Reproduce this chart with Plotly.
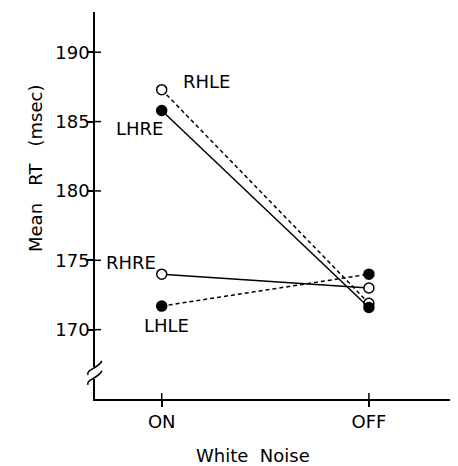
import plotly.graph_objects as go

conditions = ["ON", "OFF"]
x_pos = [0, 1]
rhle = [187.3, 171.9]
lhre = [185.8, 171.6]
rhre = [174.0, 173.0]
lhle = [171.7, 174.0]
y_ticks = [170, 175, 180, 185, 190]

OFF = 8  # page body margin
W, H = 458 - OFF, 466 - OFF
ML, MR, MT = 95 - OFF, 0, 12 - OFF
PW = 458 - 95
PH = 399 - 12
MB = H - MT - PH
FONT = "DejaVu Sans"
NB = "\u00a0"

fig = go.Figure()

series = [
    ("RHLE", rhle, "dash", "white"),
    ("LHRE", lhre, "solid", "black"),
    ("RHRE", rhre, "solid", "white"),
    ("LHLE", lhle, "dash", "black"),
]
for name, vals, dash, fill in series:
    fig.add_trace(go.Scatter(
        x=x_pos, y=vals, mode="lines+markers", name=name,
        line=dict(color="black", width=1.5, dash="4px,3px" if dash == "dash" else "solid"),
        marker=dict(size=10, color=fill, line=dict(color="black", width=1.5)),
        showlegend=False, cliponaxis=False,
    ))

xr = [-0.322, 1.43]
yr = [165.0, 192.9]
tickfont = dict(family=FONT, size=18, color="black")

fig.update_layout(
    width=W, height=H,
    margin=dict(l=ML, r=MR, t=MT, b=MB),
    paper_bgcolor="white", plot_bgcolor="white",
    xaxis=dict(range=xr, tickvals=x_pos, ticktext=conditions, showgrid=False,
               zeroline=False, showline=True, linecolor="black", linewidth=1.5,
               ticks="outside", ticklen=6, tickwidth=1.5, tickcolor="black",
               tickfont=tickfont),
    yaxis=dict(range=yr, tickvals=y_ticks, showgrid=False, zeroline=False,
               showline=True, linecolor="black", linewidth=1.5,
               ticks="outside", ticklen=6, tickwidth=1.5, tickcolor="black",
               tickfont=tickfont, ticklabelstandoff=-6),
)

# inner halves of the crossing tick marks
xt = 6 / PW
yt = 6 / PH
for v in y_ticks:
    fig.add_shape(type="line", xref="paper", yref="y", x0=0, x1=xt, y0=v, y1=v,
                  line=dict(color="black", width=1.5))
for v in x_pos:
    fig.add_shape(type="line", xref="x", yref="paper", x0=v, x1=v, y0=0, y1=yt,
                  line=dict(color="black", width=1.5))


def px_to_paper(px, py):
    return (px - OFF - ML) / PW, 1 - (py - OFF - MT) / PH


labels = [("RHLE", 206, 82), ("LHRE", 139, 128), ("RHRE", 131, 262), ("LHLE", 166, 325)]
for txt, px, py in labels:
    xp, yp = px_to_paper(px, py)
    fig.add_annotation(text=txt, x=xp, y=yp, xref="paper", yref="paper",
                       showarrow=False, font=dict(family=FONT, size=18, color="black"),
                       xanchor="center", yanchor="middle")

# axis titles
xp, yp = px_to_paper(253, 455)
fig.add_annotation(text="White" + NB * 2 + "Noise", x=xp, y=yp, xref="paper", yref="paper",
                   showarrow=False, font=dict(family=FONT, size=18, color="black"),
                   xanchor="center", yanchor="middle")
xp, yp = px_to_paper(35, 168)
fig.add_annotation(text="Mean" + NB * 3 + "RT" + NB * 3 + "(msec)", x=xp, y=yp,
                   xref="paper", yref="paper", showarrow=False, textangle=-90,
                   font=dict(family=FONT, size=18, color="black"),
                   xanchor="center", yanchor="middle")

# axis break mark
def curve(cx, cy):
    pts = [(cx - 7, cy + 7), (cx - 9, cy + 1), (cx + 1, cy + 2), (cx + 7, cy - 7)]
    p = [px_to_paper(a, b) for a, b in pts]
    return "M {0},{1} C {2},{3} {4},{5} {6},{7}".format(*[c for q in p for c in q])


x0, y0 = px_to_paper(89, 367)
x1, y1 = px_to_paper(101, 379)
fig.add_shape(type="rect", xref="paper", yref="paper", x0=x0, x1=x1, y0=y1, y1=y0,
              fillcolor="white", line=dict(width=0), layer="above")
for cy in (368, 378):
    fig.add_shape(type="path", xref="paper", yref="paper", path=curve(95, cy),
                  line=dict(color="black", width=1.5), layer="above")

fig.write_html("out.html")
